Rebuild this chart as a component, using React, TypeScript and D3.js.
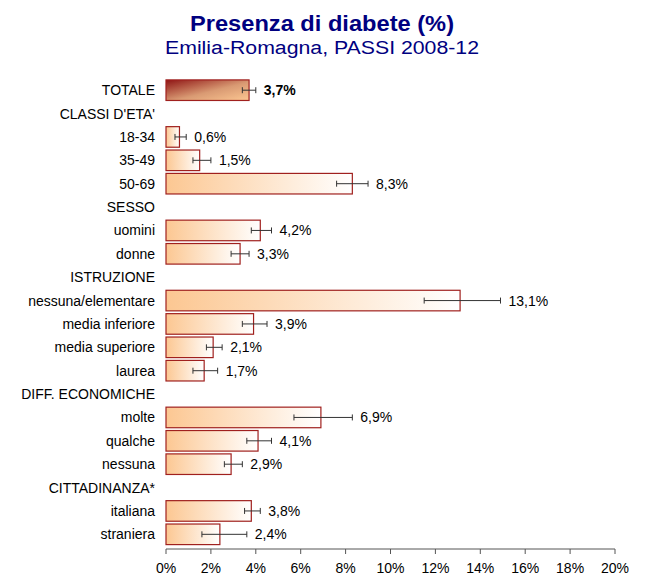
import React from "react";
import * as d3 from "d3";

const labels = ["TOTALE", "CLASSI D'ETA'", "18-34", "35-49", "50-69", "SESSO", "uomini", "donne", "ISTRUZIONE", "nessuna/elementare", "media inferiore", "media superiore", "laurea", "DIFF. ECONOMICHE", "molte", "qualche", "nessuna", "CITTADINANZA*", "italiana", "straniera"];
const values: (number | null)[] = [3.7, null, 0.6, 1.5, 8.3, null, 4.2, 3.3, null, 13.1, 3.9, 2.1, 1.7, null, 6.9, 4.1, 2.9, null, 3.8, 2.4];
const lows: (number | null)[] = [3.4, null, 0.4, 1.2, 7.6, null, 3.8, 2.9, null, 11.5, 3.4, 1.8, 1.2, null, 5.7, 3.6, 2.6, null, 3.5, 1.6];
const highs: (number | null)[] = [4.0, null, 0.9, 2.0, 9.0, null, 4.7, 3.7, null, 14.9, 4.5, 2.5, 2.3, null, 8.3, 4.7, 3.4, null, 4.2, 3.6];
const ticks = [0, 2, 4, 6, 8, 10, 12, 14, 16, 18, 20];

export default function App() {
  const W = 646, H = 576;
  const x = d3.scaleLinear().domain([0, 20]).range([166, 615]);
  const y = d3.scaleBand<number>().domain(labels.map((_, i) => i)).range([78.5, 546]).paddingInner(0.12).paddingOuter(0.06);
  const fmt = (v: number) => v.toFixed(1).replace(".", ",") + "%";
  const font = "'Liberation Sans', Arial, sans-serif";
  return (
    <svg width={W} height={H} style={{ position: "absolute", left: 0, top: 0 }} fontFamily={font}>
      <defs>
        <linearGradient id="g1" x1="0" y1="0" x2="1" y2="0">
          <stop offset="0" stopColor="#FCC792" />
          <stop offset="1" stopColor="#FFFFFF" />
        </linearGradient>
        <linearGradient id="g0" x1="0" y1="0" x2="1" y2="1">
          <stop offset="0" stopColor="#8E1414" />
          <stop offset="0.55" stopColor="#D99A73" />
          <stop offset="1" stopColor="#FCC792" />
        </linearGradient>
      </defs>
      <rect width={W} height={H} fill="#fff" />
      <text x={322} y={31} textAnchor="middle" fontSize={21.5} fontWeight="bold" fill="#000080" textLength={264} lengthAdjust="spacingAndGlyphs">Presenza di diabete (%)</text>
      <text x={322} y={54} textAnchor="middle" fontSize={18} fill="#000080" textLength={314} lengthAdjust="spacingAndGlyphs">Emilia-Romagna, PASSI 2008-12</text>
      {labels.map((l, i) => {
        const yc = (y(i) as number) + y.bandwidth() / 2;
        const v = values[i];
        return (
          <g key={i}>
            <text x={155} y={yc + 5} textAnchor="end" fontSize={14} fill="#000">{l}</text>
            {v !== null && (
              <g>
                <rect x={x(0)} y={y(i)} width={x(v) - x(0)} height={y.bandwidth()} fill={i === 0 ? "url(#g0)" : "url(#g1)"} stroke="#A0201E" strokeWidth={1.2} />
                <line x1={x(lows[i]!)} x2={x(highs[i]!)} y1={yc} y2={yc} stroke="#333" strokeWidth={1} />
                <line x1={x(lows[i]!)} x2={x(lows[i]!)} y1={yc - 3} y2={yc + 3} stroke="#333" strokeWidth={1} />
                <line x1={x(highs[i]!)} x2={x(highs[i]!)} y1={yc - 3} y2={yc + 3} stroke="#333" strokeWidth={1} />
                <text x={x(highs[i]!) + 8} y={yc + 5} fontSize={14} fontWeight={i === 0 ? "bold" : "normal"} fill="#000">{fmt(v)}</text>
              </g>
            )}
          </g>
        );
      })}
      <line x1={x(0)} x2={x(20)} y1={549} y2={549} stroke="#555" />
      {ticks.map((t) => (
        <g key={t}>
          <line x1={x(t)} x2={x(t)} y1={549} y2={554} stroke="#555" />
          <text x={x(t)} y={573} textAnchor="middle" fontSize={14} fill="#000">{t}%</text>
        </g>
      ))}
    </svg>
  );
}
